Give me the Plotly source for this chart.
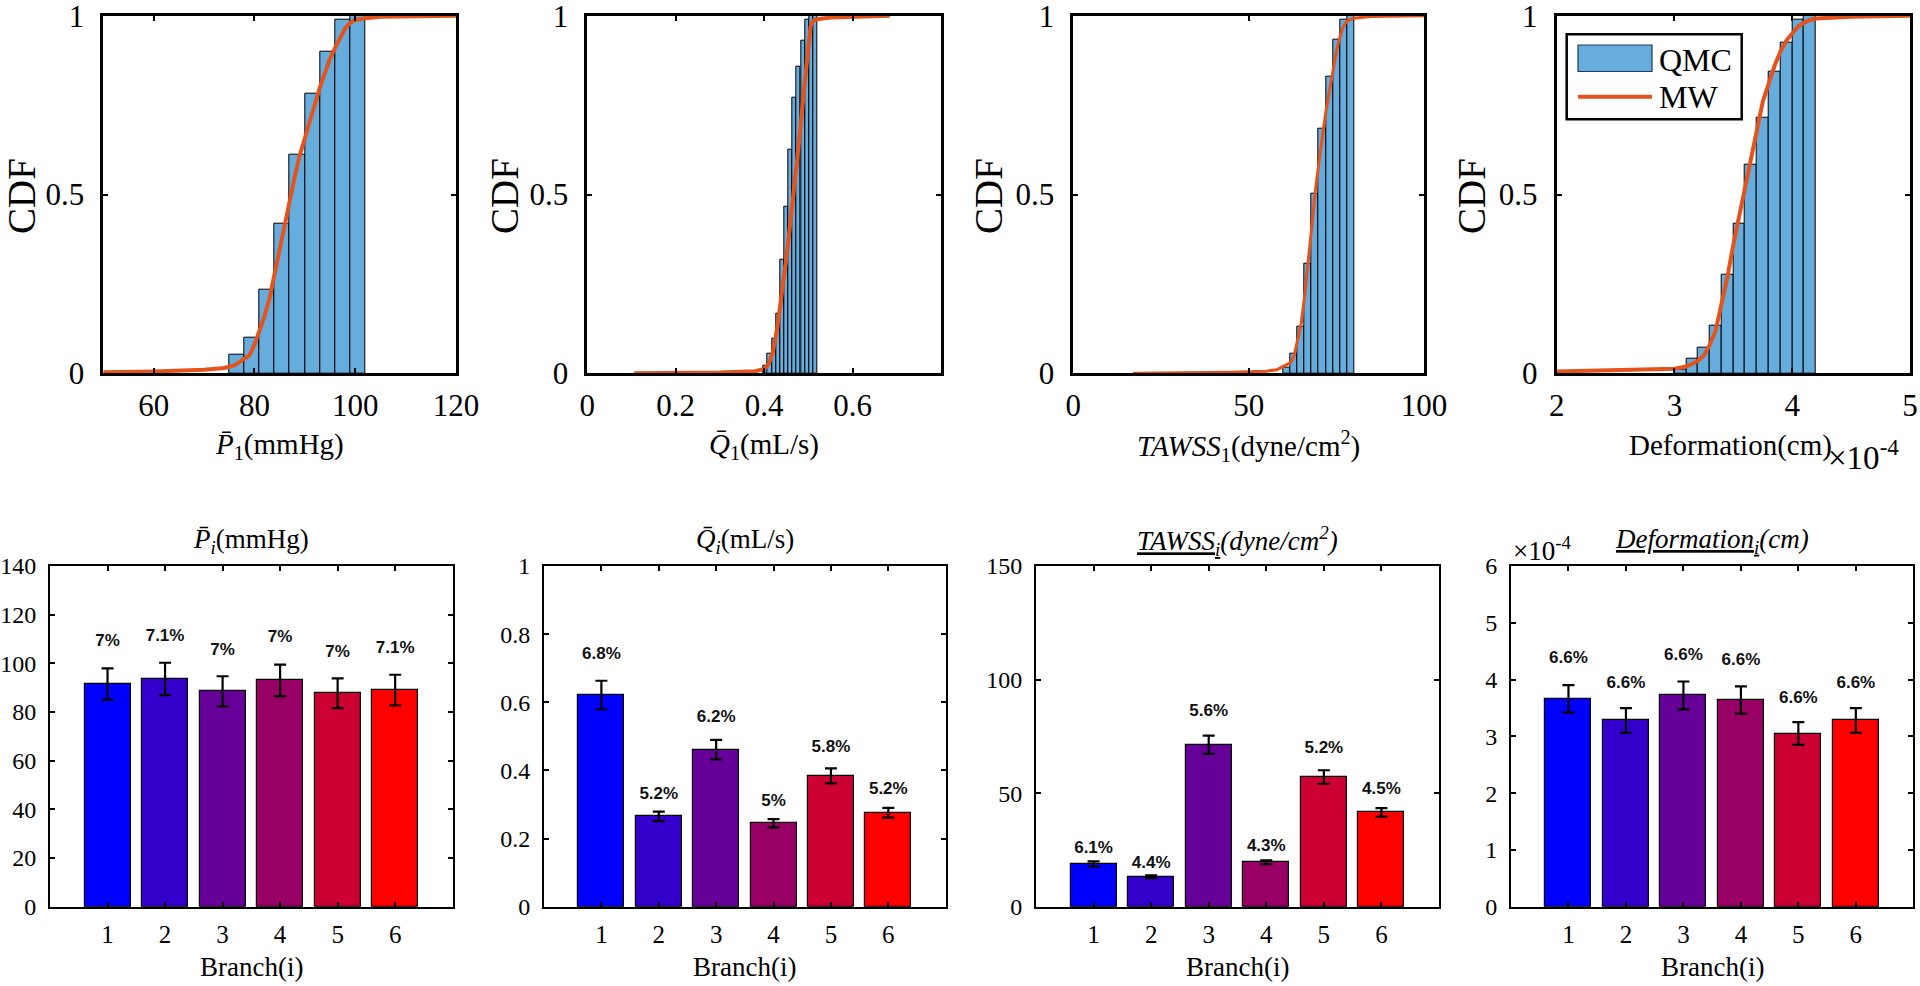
import plotly.graph_objects as go

W, H = 1920, 986

# ---------------- data : top row (CDF) ----------------
p_bin_left = [75, 78, 81, 84, 87, 90, 93, 96, 99]
p_bin_width = 3
p_qmc_cdf = [0.053, 0.10, 0.233, 0.417, 0.61, 0.783, 0.90, 0.99, 1.0]
p_mw_x = [50, 60, 70, 74, 76, 78, 79, 80, 81, 82, 83, 84, 85, 86, 87, 88, 89, 90, 91,
          92, 93, 94, 95, 96, 97, 98, 99, 100, 102, 105, 120]
p_mw_y = [0.003, 0.005, 0.01, 0.015, 0.022, 0.04, 0.05, 0.08, 0.12, 0.16, 0.21, 0.28,
          0.35, 0.42, 0.49, 0.55, 0.61, 0.66, 0.71, 0.76, 0.80, 0.84, 0.88, 0.91, 0.94,
          0.965, 0.98, 0.988, 0.993, 0.997, 1.0]

q_bin_left = [0.399, 0.408, 0.418, 0.427, 0.436, 0.446, 0.455, 0.464, 0.473, 0.483,
              0.492, 0.501, 0.511]
q_bin_width = 0.0093
q_qmc_cdf = [0.02, 0.054, 0.098, 0.168, 0.317, 0.466, 0.625, 0.77, 0.858, 0.93, 0.99,
             1.0, 1.0]
q_mw_x = [0.106, 0.2, 0.3, 0.38, 0.40, 0.41, 0.42, 0.43, 0.44, 0.45, 0.46, 0.47, 0.48,
          0.49, 0.50, 0.505, 0.51, 0.52, 0.55, 0.684]
q_mw_y = [0.0, 0.001, 0.002, 0.006, 0.012, 0.025, 0.06, 0.13, 0.22, 0.32, 0.43, 0.54,
          0.66, 0.79, 0.92, 0.97, 0.985, 0.99, 0.995, 1.0]

t_bin_left = [60, 62, 64, 66, 68, 70, 72, 74, 76, 78]
t_bin_width = 2
t_qmc_cdf = [0.017, 0.056, 0.131, 0.306, 0.502, 0.684, 0.829, 0.934, 0.99, 1.0]
t_mw_x = [17, 30, 45, 55, 58, 60, 62, 63, 64, 65, 66, 67, 68, 69, 70, 71, 72, 73, 74,
          75, 76, 77, 78, 80, 85, 100]
t_mw_y = [0.0, 0.001, 0.003, 0.006, 0.01, 0.02, 0.03, 0.05, 0.10, 0.14, 0.22, 0.31,
          0.41, 0.51, 0.59, 0.66, 0.73, 0.79, 0.85, 0.90, 0.94, 0.97, 0.985, 0.993,
          0.998, 1.0]

# deformation values in units of 1e-4 cm
d_bin_left = [3.0, 3.1, 3.2, 3.3, 3.4, 3.5, 3.6, 3.7, 3.8, 3.9, 4.0, 4.1]
d_bin_width = 0.1
d_qmc_cdf = [0.01, 0.042, 0.073, 0.132, 0.275, 0.419, 0.584, 0.716, 0.843, 0.925,
             0.988, 1.0]
d_mw_x = [2.0, 2.5, 3.0, 3.1, 3.2, 3.25, 3.3, 3.35, 3.4, 3.45, 3.5, 3.55, 3.6, 3.65,
          3.7, 3.75, 3.8, 3.85, 3.9, 3.95, 4.0, 4.05, 4.1, 4.15, 4.2, 4.5, 5.0]
d_mw_y = [0.005, 0.008, 0.013, 0.019, 0.035, 0.05, 0.08, 0.12, 0.19, 0.27, 0.36, 0.44,
          0.53, 0.61, 0.69, 0.76, 0.81, 0.86, 0.90, 0.93, 0.95, 0.97, 0.98, 0.988,
          0.992, 0.997, 1.0]

# ---------------- data : bottom row (branches) ----------------
branches = [1, 2, 3, 4, 5, 6]
branch_colors = ['#0000FF', '#3300CC', '#660099', '#990066', '#CC0033', '#FF0000']

p_mean = [91.5, 93.6, 88.5, 93.0, 87.7, 89.0]
p_pct = [7, 7.1, 7, 7, 7, 7.1]
p_pct_text = ['7%', '7.1%', '7%', '7%', '7%', '7.1%']

q_mean = [0.621, 0.265, 0.461, 0.245, 0.384, 0.276]
q_pct = [6.8, 5.2, 6.2, 5.0, 5.8, 5.2]
q_pct_text = ['6.8%', '5.2%', '6.2%', '5%', '5.8%', '5.2%']

t_mean = [18.8, 13.2, 71.3, 19.6, 57.1, 41.5]
t_pct = [6.1, 4.4, 5.6, 4.3, 5.2, 4.5]
t_pct_text = ['6.1%', '4.4%', '5.6%', '4.3%', '5.2%', '4.5%']

d_mean = [3.66, 3.28, 3.72, 3.64, 3.05, 3.28]   # x 1e-4 cm
d_pct = [6.6, 6.6, 6.6, 6.6, 6.6, 6.6]
d_pct_text = ['6.6%'] * 6

legend_names = ['QMC', 'MW']

# ---------------- styling ----------------
SERIF = 'Liberation Serif, Times New Roman, serif'
SANS = 'Liberation Sans, Arial, sans-serif'
HIST_COLOR = '#66ACDD'
MW_COLOR = '#E4531B'


def fx(px):
    return px / W


def fy(py):
    return 1 - py / H


TOP = (15.7, 373.3)
BOT = (566.0, 906.7)
top_x = [(103.3, 456.0), (587.3, 941.0), (1073.3, 1424.0), (1556.7, 1910.0)]
bot_x = [(50.0, 452.7), (544.0, 945.7), (1036.0, 1439.0), (1511.0, 1913.3)]

fig = go.Figure()
layout = dict(
    width=W, height=H, margin=dict(l=0, r=0, t=0, b=0, autoexpand=False),
    paper_bgcolor='white', plot_bgcolor='white', showlegend=False,
    bargap=0,
)


def axis_common(lw, fs, standoff):
    return dict(
        showline=True, linecolor='black', linewidth=lw, mirror='allticks',
        ticks='inside', ticklen=5, tickwidth=1.5, tickcolor='black',
        showgrid=False, zeroline=False, tickmode='array', automargin=False,
        tickfont=dict(family=SERIF, size=fs, color='black'),
        ticklabelstandoff=standoff, ticklabeloverflow='allow',
    )


top_ranges = [[50, 120], [0, 0.8], [0, 100], [2, 5]]
top_ticks = [[60, 80, 100, 120], [0, 0.2, 0.4, 0.6], [0, 50, 100], [2, 3, 4, 5]]
top_data = [
    (p_bin_left, p_bin_width, p_qmc_cdf, p_mw_x, p_mw_y, 4),
    (q_bin_left, q_bin_width, q_qmc_cdf, q_mw_x, q_mw_y, 4),
    (t_bin_left, t_bin_width, t_qmc_cdf, t_mw_x, t_mw_y, 3),
    (d_bin_left, d_bin_width, d_qmc_cdf, d_mw_x, d_mw_y, 4),
]

for i in range(4):
    n = i + 1
    xa = 'x' if n == 1 else f'x{n}'
    ya = 'y' if n == 1 else f'y{n}'
    left, bw, cdf, mx, my, lw = top_data[i]
    fig.add_trace(go.Bar(
        x=left, y=cdf, width=[bw] * len(left), offset=0,
        marker=dict(color=HIST_COLOR, line=dict(color='black', width=1)),
        name=legend_names[0], xaxis=xa, yaxis=ya,
    ))
    fig.add_trace(go.Scatter(
        x=mx, y=my, mode='lines', line=dict(color=MW_COLOR, width=lw),
        name=legend_names[1], xaxis=xa, yaxis=ya,
    ))
    xk = 'xaxis' if n == 1 else f'xaxis{n}'
    yk = 'yaxis' if n == 1 else f'yaxis{n}'
    layout[xk] = dict(axis_common(2.8, 31, 3),
                      domain=[fx(top_x[i][0]), fx(top_x[i][1])],
                      range=top_ranges[i], tickvals=top_ticks[i], anchor=ya)
    layout[yk] = dict(axis_common(2.8, 31, 10),
                      domain=[fy(TOP[1]), fy(TOP[0])],
                      range=[0, 1], tickvals=[0, 0.5, 1], ticktext=['0', '0.5', '1'],
                      anchor=xa)

bot_ranges = [[0, 140], [0, 1], [0, 150], [0, 6]]
bot_ticks = [list(range(0, 141, 20)), [0, 0.2, 0.4, 0.6, 0.8, 1],
             [0, 50, 100, 150], [0, 1, 2, 3, 4, 5, 6]]
bot_tick_text = [None, ['0', '0.2', '0.4', '0.6', '0.8', '1'], None, None]
bot_data = [
    (p_mean, p_pct, p_pct_text),
    (q_mean, q_pct, q_pct_text),
    (t_mean, t_pct, t_pct_text),
    (d_mean, d_pct, d_pct_text),
]

for i in range(4):
    n = i + 5
    xa, ya = f'x{n}', f'y{n}'
    mean, pct, ptxt = bot_data[i]
    err = [m * p / 100 for m, p in zip(mean, pct)]
    fig.add_trace(go.Bar(
        x=branches, y=mean, width=0.8,
        marker=dict(color=branch_colors, line=dict(color='black', width=1.2)),
        error_y=dict(type='data', array=err, visible=True, color='black',
                     thickness=2.2, width=6),
        xaxis=xa, yaxis=ya,
    ))
    fig.add_trace(go.Scatter(
        x=branches, y=[m * 1.15 for m in mean], mode='text', text=ptxt,
        textposition='top center', cliponaxis=False,
        textfont=dict(family=SANS, size=17, color='#111111', weight='bold'),
        xaxis=xa, yaxis=ya,
    ))
    layout[f'xaxis{n}'] = dict(axis_common(2, 25, 4),
                               domain=[fx(bot_x[i][0]), fx(bot_x[i][1])],
                               range=[0, 7], tickvals=branches, anchor=ya)
    yax = dict(axis_common(2, 24, 7),
               domain=[fy(BOT[1]), fy(BOT[0])],
               range=bot_ranges[i], tickvals=bot_ticks[i], anchor=xa)
    if bot_tick_text[i] is not None:
        yax['ticktext'] = bot_tick_text[i]
    layout[f'yaxis{n}'] = yax

# ---------------- text (titles) ----------------
ann = []


def add_text(text, px, py, size, angle=0, font=SERIF, xanchor='center'):
    ann.append(dict(text=text, x=fx(px), y=fy(py), xref='paper', yref='paper',
                    showarrow=False, textangle=angle, xanchor=xanchor, yanchor='middle',
                    font=dict(family=font, size=size, color='black')))


cdf_x = [21, 504, 988, 1471]
for cx in cdf_x:
    add_text('CDF', cx, 196, 39, angle=-90)

top_titles = [
    '<i>P\u0304</i><sub>1</sub>(mmHg)',
    '<i>Q\u0304</i><sub>1</sub>(mL/s)',
    '<i>TAWSS</i><sub>1</sub>(dyne/cm<sup>2</sup>)',
    'Deformation(cm)',
]
for i, t in enumerate(top_titles):
    cx = (top_x[i][0] + top_x[i][1]) / 2
    add_text(t, cx - (3 if i == 3 else 0), 446, 29)
add_text('\u00d710<sup>-4</sup>', 1826, 455, 33, xanchor='left')

bot_titles = [
    '<i>P\u0304</i><sub><i>i</i></sub>(mmHg)',
    '<i>Q\u0304</i><sub><i>i</i></sub>(mL/s)',
    '<u><i>TAWSS</i><sub><i>i</i></sub></u><i>(dyne/cm<sup>2</sup>)</i>',
    '<u><i>Deformation</i><sub><i>i</i></sub></u><i>(cm)</i>',
]
for i, t in enumerate(bot_titles):
    cx = (bot_x[i][0] + bot_x[i][1]) / 2
    add_text(t, cx, 541, 27)
    add_text('Branch(i)', cx, 967, 27)
add_text('\u00d710<sup>-4</sup>', 1511, 549, 27, xanchor='left')

# ---------------- legend (drawn in the 4th CDF panel) ----------------
shapes = [
    dict(type='rect', xref='paper', yref='paper', x0=fx(1566.7), x1=fx(1741.7),
         y0=fy(119.3), y1=fy(34.3), line=dict(color='black', width=2.5),
         fillcolor='white', layer='above'),
    dict(type='rect', xref='paper', yref='paper', x0=fx(1578), x1=fx(1652),
         y0=fy(71.5), y1=fy(45), line=dict(color='#1a3a5a', width=1.2),
         fillcolor=HIST_COLOR, layer='above'),
    dict(type='line', xref='paper', yref='paper', x0=fx(1578), x1=fx(1652),
         y0=fy(96.7), y1=fy(96.7), line=dict(color=MW_COLOR, width=4), layer='above'),
]
add_text(legend_names[0], 1657, 60, 32, xanchor='left')
add_text(legend_names[1], 1657, 97, 32, xanchor='left')

layout['annotations'] = ann
layout['shapes'] = shapes

fig.update_layout(**layout)
fig.write_html('out.html', config={'displayModeBar': False},
               post_script="document.body.style.margin='0';document.body.style.overflow='hidden';")
